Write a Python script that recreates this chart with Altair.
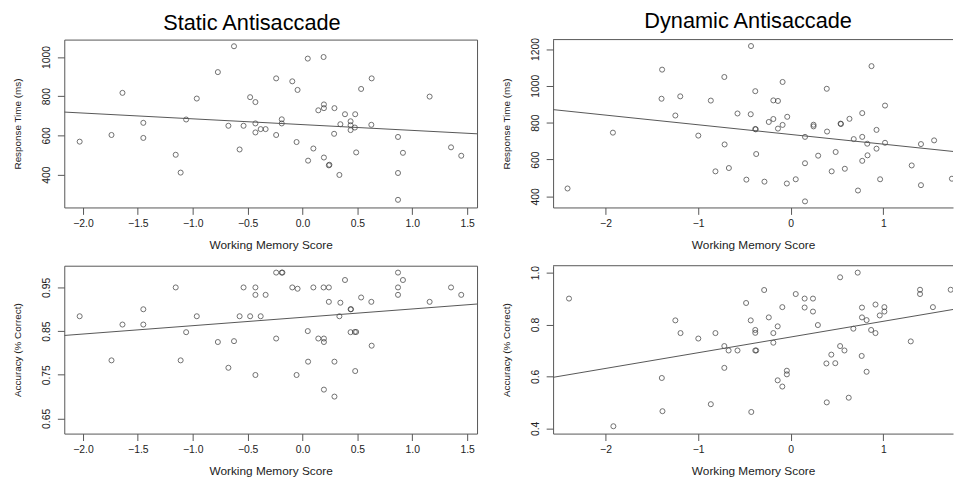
import altair as alt
import pandas as pd

FONT = "Liberation Sans"

# ---- Static antisaccade: response time ----
s_rt_wm = [-2.03, -1.74, -1.64, -1.45, -1.45, -1.155, -1.11, -1.06, -0.963, -0.771,
           -0.675, -0.624, -0.573, -0.537, -0.477, -0.429, -0.429, -0.429, -0.381, -0.336,
           -0.24, -0.24, -0.189, -0.189, -0.093, -0.054, -0.045, 0.048, 0.051, 0.099,
           0.144, 0.192, 0.195, 0.195, 0.195, 0.24, 0.245, 0.288, 0.291, 0.336,
           0.345, 0.387, 0.438, 0.438, 0.438, 0.477, 0.48, 0.489, 0.534, 0.63,
           0.627, 0.87, 0.87, 0.87, 0.915, 1.158, 1.353, 1.446]
s_rt = [568, 602, 817, 664, 587, 501, 410, 681, 788, 923,
        649, 1055, 528, 649, 795, 770, 661, 615, 632, 632,
        891, 602, 682, 661, 876, 566, 832, 992, 471, 533,
        728, 1000, 758, 739, 487, 447, 450, 608, 739, 398,
        657, 708, 672, 652, 627, 640, 708, 513, 837, 891,
        654, 592, 408, 271, 511, 798, 539, 496]
s_rt_fit_x = [-2.17, 1.59]
s_rt_fit_y = [719, 608]

# ---- Dynamic antisaccade: response time ----
d_rt_wm = [-2.41, -1.92, -1.389, -1.395, -1.246, -1.193, -0.998, -0.863, -0.813, -0.717,
           -0.714, -0.668, -0.575, -0.479, -0.429, -0.432, -0.383, -0.383, -0.378, -0.373,
           -0.284, -0.237, -0.188, -0.188, -0.138, -0.138, -0.088, -0.088, -0.038, -0.042,
           0.054, 0.154, 0.154, 0.154, 0.246, 0.246, 0.296, 0.389, 0.392, 0.442,
           0.485, 0.538, 0.542, 0.584, 0.634, 0.68, 0.726, 0.772, 0.772, 0.772,
           0.826, 0.829, 0.872, 0.926, 0.926, 0.965, 1.018, 1.018, 1.306, 1.406,
           1.406, 1.548, 1.74]
d_rt = [443, 746, 1088, 930, 839, 943, 730, 920, 536, 1048,
        682, 554, 850, 491, 1216, 846, 971, 766, 764, 630,
        480, 804, 820, 921, 918, 768, 1021, 788, 832, 470,
        493, 723, 580, 373, 789, 780, 621, 984, 752, 536,
        641, 795, 793, 550, 821, 711, 432, 852, 723, 593,
        686, 623, 1107, 761, 659, 493, 893, 691, 568, 684,
        461, 704, 496]
d_rt_fit_x = [-2.566, 1.752]
d_rt_fit_y = [871, 644]

# ---- Static antisaccade: accuracy ----
s_acc_wm = [-2.03, -1.74, -1.64, -1.45, -1.45, -1.155, -1.11, -1.06, -0.963, -0.771,
            -0.675, -0.624, -0.573, -0.537, -0.477, -0.429, -0.429, -0.429, -0.381, -0.336,
            -0.24, -0.24, -0.189, -0.183, -0.093, -0.054, -0.045, 0.048, 0.051, 0.099,
            0.144, 0.192, 0.195, 0.195, 0.195, 0.24, 0.24, 0.291, 0.291, 0.336,
            0.345, 0.387, 0.438, 0.442, 0.438, 0.477, 0.489, 0.48, 0.534, 0.627,
            0.63, 0.87, 0.87, 0.87, 0.915, 1.158, 1.353, 1.446]
s_acc = [0.884, 0.783, 0.865, 0.900, 0.865, 0.950, 0.783, 0.8475, 0.884, 0.825,
         0.766, 0.827, 0.884, 0.950, 0.884, 0.950, 0.933, 0.7495, 0.884, 0.933,
         0.984, 0.833, 0.984, 0.984, 0.950, 0.7495, 0.947, 0.850, 0.780, 0.950,
         0.833, 0.950, 0.833, 0.825, 0.716, 0.950, 0.917, 0.780, 0.700, 0.884,
         0.915, 0.967, 0.900, 0.900, 0.8475, 0.848, 0.848, 0.7585, 0.927, 0.917,
         0.8166, 0.984, 0.950, 0.933, 0.967, 0.917, 0.950, 0.933]
s_acc_fit_x = [-2.17, 1.59]
s_acc_fit_y = [0.840, 0.912]

# ---- Dynamic antisaccade: accuracy ----
d_acc_wm = [-2.394, -1.915, -1.392, -1.385, -1.246, -1.19, -0.998, -0.863, -0.813, -0.717,
            -0.717, -0.671, -0.575, -0.482, -0.432, -0.426, -0.383, -0.383, -0.383, -0.373,
            -0.287, -0.237, -0.188, -0.188, -0.141, -0.141, -0.091, -0.091, -0.042, -0.042,
            0.054, 0.15, 0.15, 0.24, 0.24, 0.293, 0.385, 0.389, 0.438, 0.481,
            0.533, 0.533, 0.58, 0.626, 0.676, 0.723, 0.769, 0.769, 0.766, 0.819,
            0.819, 0.868, 0.915, 0.915, 0.961, 1.011, 1.011, 1.296, 1.396, 1.396,
            1.535, 1.727]
d_acc = [0.900, 0.408, 0.594, 0.466, 0.816, 0.767, 0.746, 0.493, 0.767, 0.717,
         0.633, 0.700, 0.700, 0.883, 0.816, 0.463, 0.779, 0.768, 0.700, 0.700,
         0.933, 0.8275, 0.767, 0.730, 0.793, 0.585, 0.867, 0.561, 0.622, 0.608,
         0.9175, 0.900, 0.8655, 0.900, 0.850, 0.798, 0.650, 0.500, 0.684, 0.651,
         0.982, 0.717, 0.700, 0.518, 0.784, 1.0, 0.8655, 0.8275, 0.679, 0.817,
         0.618, 0.779, 0.877, 0.767, 0.835, 0.867, 0.850, 0.735, 0.934, 0.9175,
         0.867, 0.934]
d_acc_fit_x = [-2.566, 1.752]
d_acc_fit_y = [0.5965, 0.858]

titles = ["Static Antisaccade", "Dynamic Antisaccade"]
x_title = "Working Memory Score"
y_titles = ["Response Time (ms)", "Accuracy (% Correct)"]

static_x_ticks = [-2.0, -1.5, -1.0, -0.5, 0.0, 0.5, 1.0, 1.5]
dynamic_x_ticks = [-2, -1, 0, 1]
s_rt_ticks = [400, 600, 800, 1000]
d_rt_ticks = [400, 600, 800, 1000, 1200]
s_acc_ticks = [0.65, 0.75, 0.85, 0.95]
d_acc_ticks = [0.4, 0.5, 0.6, 0.7, 0.8, 0.9, 1.0]

H = 170
FRAME = "#555555"
TXT = "#222222"


def panel(xs, ys, fx, fy, xdom, ydom, xticks, xfmt, yticks, yfmt, ytitle, width,
          title=None, title_dx=0, right=False):
    df = pd.DataFrame({"x": xs, "y": ys})
    fit = pd.DataFrame({"x": fx, "y": fy})
    xax = alt.Axis(values=xticks, format=xfmt, title=x_title, grid=False,
                   tickSize=7, tickColor=FRAME, domain=right, domainColor=FRAME,
                   labelFontSize=10.5, labelPadding=4, labelColor=TXT, labelFont=FONT,
                   labelFlush=False, labelOverlap=False,
                   titleFontSize=12, titlePadding=11, titleColor=TXT, titleFont=FONT,
                   titleFontWeight="normal")
    yax = alt.Axis(values=yticks, format=yfmt, title=ytitle, grid=False,
                   tickSize=7, tickColor=FRAME, domain=right, domainColor=FRAME,
                   labelFontSize=10.5, labelPadding=6, labelColor=TXT, labelFont=FONT,
                   labelAngle=270, labelAlign="center", labelBaseline="bottom",
                   labelOverlap=False, labelFlush=False,
                   titleFontSize=10, titleColor=TXT, titleFont=FONT,
                   titleFontWeight="normal", titleAngle=270, titleAlign="center",
                   titleBaseline="bottom", titleX=-42, titleY=H / 2)
    xs_ = alt.Scale(domain=xdom, nice=False, zero=False)
    ys_ = alt.Scale(domain=ydom, nice=False, zero=False)
    pts = alt.Chart(df).mark_point(shape="circle", filled=False, size=26,
                                   stroke="#333333", strokeWidth=1, clip=True).encode(
        x=alt.X("x:Q", scale=xs_, axis=xax),
        y=alt.Y("y:Q", scale=ys_, axis=yax),
    )
    line = alt.Chart(fit).mark_line(color="#555555", strokeWidth=1, clip=True).encode(
        x=alt.X("x:Q", scale=xs_), y=alt.Y("y:Q", scale=ys_))
    layers = [pts, line]
    if right:
        top = alt.Chart(pd.DataFrame({"v": [0]})).mark_rule(color=FRAME, strokeWidth=1).encode(
            y=alt.value(0), x=alt.value(0), x2=alt.value(width))
        layers.append(top)
    ch = alt.layer(*layers).properties(width=width, height=H)
    if right:
        ch = ch.properties(view=alt.ViewBackground(stroke="transparent"))
    if title:
        ch = ch.properties(title=alt.TitleParams(
            text=title, fontSize=22, font=FONT, fontWeight="normal", color="#000000",
            anchor="middle", frame="group", dx=title_dx, offset=-12, baseline="alphabetic"))
    return ch


p1 = panel(s_rt_wm, s_rt, s_rt_fit_x, s_rt_fit_y, [-2.17, 1.59], [232, 1089],
           static_x_ticks, ".1f", s_rt_ticks, "d", y_titles[0], 418,
           title=titles[0], title_dx=-19)
p2 = panel(d_rt_wm, d_rt, d_rt_fit_x, d_rt_fit_y, [-2.566, 1.752], [340, 1251],
           dynamic_x_ticks, "d", d_rt_ticks, "d", y_titles[0], 405,
           title=titles[1], title_dx=-5, right=True)
p3 = panel(s_acc_wm, s_acc, s_acc_fit_x, s_acc_fit_y, [-2.17, 1.59], [0.6153, 0.9997],
           static_x_ticks, ".1f", s_acc_ticks, ".2f", y_titles[1], 418)
p4 = panel(d_acc_wm, d_acc, d_acc_fit_x, d_acc_fit_y, [-2.566, 1.752], [0.3797, 1.0266],
           dynamic_x_ticks, "d", d_acc_ticks, ".1f", y_titles[1], 405, right=True)

chart = alt.concat(p1, p2, p3, p4, columns=2, spacing={"row": 59, "column": 77},
                   bounds="flush", align="each").properties(
    padding={"left": 4, "top": -2, "right": 0, "bottom": 0},
    background="white",
).configure_view(stroke=FRAME, strokeWidth=1)

chart.save("out.html", embed_options={"renderer": "svg", "actions": False})
